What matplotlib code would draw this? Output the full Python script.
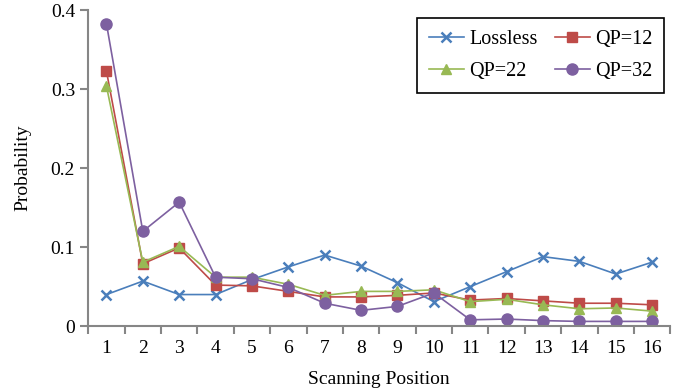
import numpy as np
import matplotlib.pyplot as plt

plt.rcParams['font.family'] = ['Liberation Serif', 'DejaVu Serif']

positions = np.arange(1, 17)
lossless = [0.040, 0.057, 0.040, 0.040, 0.059, 0.075, 0.090, 0.076,
            0.055, 0.031, 0.050, 0.069, 0.088, 0.082, 0.066, 0.081]
qp12 = [0.323, 0.079, 0.099, 0.052, 0.051, 0.044, 0.037, 0.037,
        0.039, 0.042, 0.033, 0.035, 0.032, 0.029, 0.029, 0.027]
qp22 = [0.304, 0.081, 0.101, 0.062, 0.062, 0.053, 0.039, 0.044,
        0.044, 0.046, 0.031, 0.034, 0.027, 0.022, 0.023, 0.019]
qp32 = [0.383, 0.120, 0.157, 0.062, 0.060, 0.049, 0.029, 0.020,
        0.025, 0.042, 0.008, 0.009, 0.007, 0.006, 0.006, 0.006]

fig = plt.figure(figsize=(6.84, 3.92), dpi=100)
ax = fig.add_axes([0.129, 0.168, 0.851, 0.806])

l1, = ax.plot(positions, lossless, color='#4a7ebb', marker='x', ms=7, mew=1.8, lw=1.2, label='Lossless')
l2, = ax.plot(positions, qp12, color='#be4b48', marker='s', ms=7, lw=1.2, label='QP=12')
l3, = ax.plot(positions, qp22, color='#98b954', marker='^', ms=7, lw=1.2, label='QP=22')
l4, = ax.plot(positions, qp32, color='#7d60a0', marker='o', ms=8, lw=1.2, label='QP=32')

ax.set_xlim(0.5, 16.5)
ax.set_ylim(0, 0.4)
ax.set_xticks(positions)
ax.set_xticks(np.arange(0.5, 17, 1), minor=True)
ax.tick_params(axis='x', which='major', length=0, labelsize=14, pad=10)
ax.tick_params(axis='x', which='minor', length=6, width=1.5, color='#868686')
ax.set_yticks([0, 0.1, 0.2, 0.3, 0.4])
ax.set_yticklabels(['0', '0.1', '0.2', '0.3', '0.4'])
ax.tick_params(axis='y', length=6, width=1.5, color='#868686', labelsize=14)

for s in ['top', 'right']:
    ax.spines[s].set_visible(False)
for s in ['left', 'bottom']:
    ax.spines[s].set_color('#868686')
    ax.spines[s].set_linewidth(1.5)

ax.set_xlabel('Scanning Position', fontsize=14, labelpad=10)
ax.set_ylabel('Probability', fontsize=14, labelpad=14)

leg = ax.legend([l1, l3, l2, l4], ['Lossless', 'QP=22', 'QP=12', 'QP=32'],
                ncol=2, loc='upper right', bbox_to_anchor=(1.0, 0.995), fontsize=14.5,
                fancybox=False, edgecolor='black', framealpha=1, handlelength=1.75,
                columnspacing=0.85, handletextpad=0.25, borderpad=0.6, labelspacing=0.65,
                borderaxespad=0.3)
leg.get_frame().set_linewidth(1.2)

fig.savefig('out.png', dpi=100)
